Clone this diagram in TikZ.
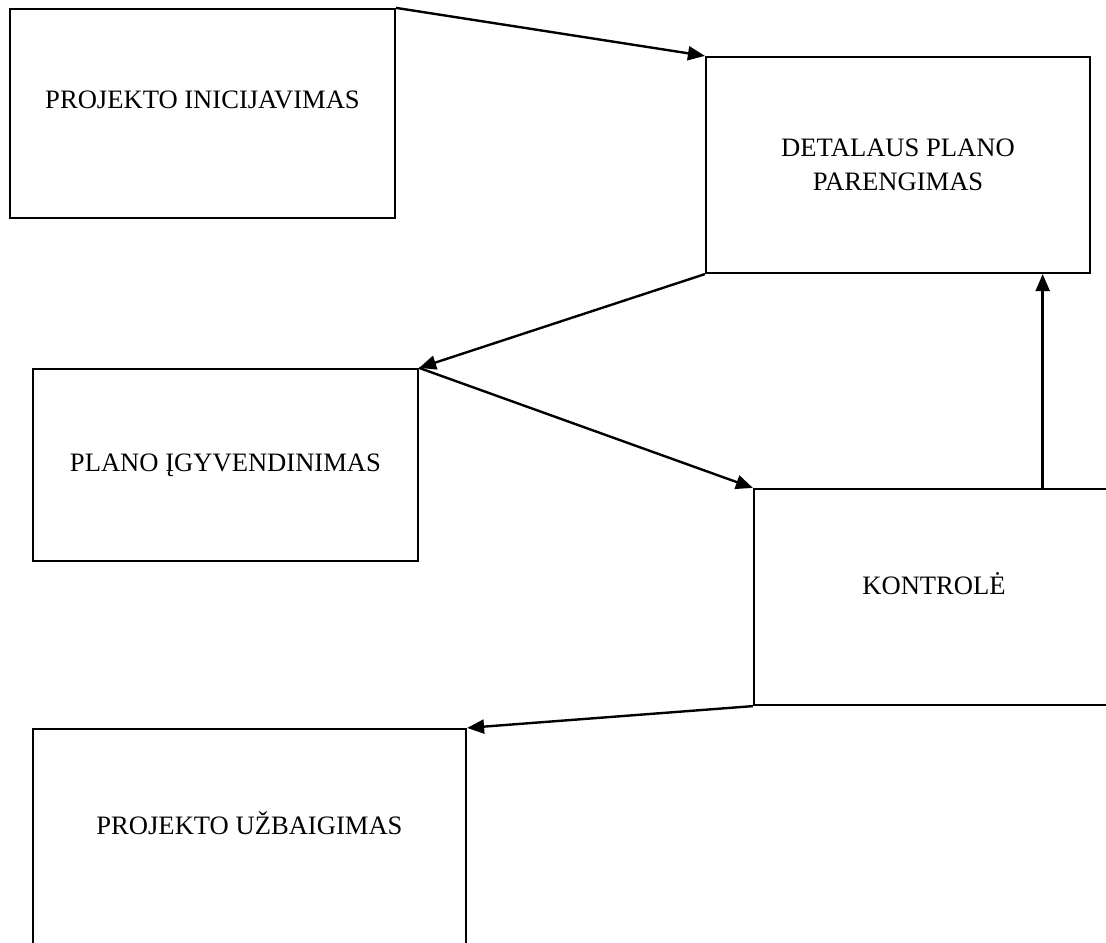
\documentclass[tikz,border=0pt]{standalone}
\usepackage{fontspec}
\setmainfont{Liberation Serif}
\usetikzlibrary{
    arrows.meta,
    positioning,
    calc
}
\tikzset{%
    >={Triangle[width=7pt,length=8.5pt]},
    % Specifications for style of nodes:
    base/.style = {
        rectangle, draw=black, line width=1.1pt,
        text centered, align=center,
        font=\fontsize{13.3}{17}\selectfont,
        fill=white
    },
    stage/.style = {base},
    lifted/.style = {base, text depth=13.5pt}
}

\begin{document}
\begin{tikzpicture}[x=0.5pt, y=-0.5pt, link/.style={->, line width=1.2pt}]
    \useasboundingbox (0,0) rectangle (1106,942);
    \clip (0,0) rectangle (1106,942);
    \node[lifted, minimum width=192.5pt, minimum height=104.5pt] (T1) at (202.5,113.5) {PROJEKTO INICIJAVIMAS};
    \node[stage, minimum width=192pt, minimum height=108pt] (T2) at (898,165) {DETALAUS PLANO\\PARENGIMAS};
    \node[stage, minimum width=192.5pt, minimum height=96pt] (T3) at (225.5,465) {PLANO ĮGYVENDINIMAS};
    \node[lifted, minimum width=180pt, minimum height=108pt] (T4) at (934,597) {KONTROLĖ};
    \node[lifted, minimum width=216.5pt, minimum height=108pt] (T5) at (249.5,837) {PROJEKTO UŽBAIGIMAS};
    \coordinate (up) at ($(T4.north west)!0.8!(T4.north east)$);
    \draw[link] (T1.north east) -- (T2.north west);
    \draw[link] (T2.south west) -- (T3.north east);
    \draw[link] (T3.north east) -- (T4.north west);
    \draw[link] (up) -- (up |- T2.south);
    \draw[link] (T4.south west) -- (T5.north east);
\end{tikzpicture}
\end{document}
